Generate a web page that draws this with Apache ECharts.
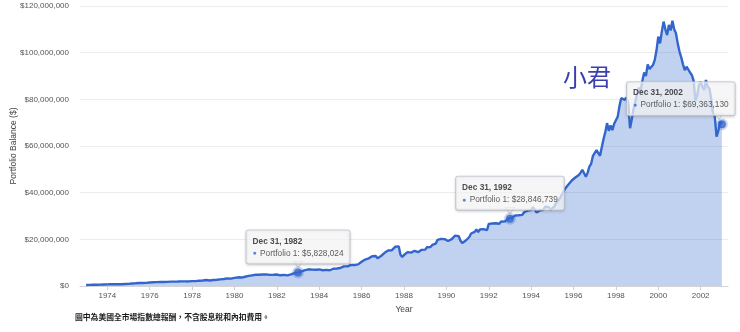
<!DOCTYPE html>
<html>
<head>
<meta charset="utf-8">
<script src="https://cdn.jsdelivr.net/npm/echarts@6/dist/echarts.min.js"></script>
<style>html,body{margin:0;padding:0;background:#fff}#c{width:740px;height:332px}</style>
</head>
<body>
<div id="c"></div>
<script>
// Month-end balances in millions of dollars (Jan..Dec)
const y1972 = [0.42]; // Dec 31, 1972 starting point
const y1973 = [0.45,0.47,0.50,0.52,0.54,0.56,0.59,0.58,0.62,0.65,0.63,0.68];
const y1974 = [0.71,0.73,0.74,0.75,0.76,0.78,0.76,0.75,0.74,0.86,0.88,0.92];
const y1975 = [1.02,1.08,1.12,1.18,1.24,1.30,1.26,1.27,1.25,1.35,1.41,1.50];
const y1976 = [1.60,1.62,1.67,1.66,1.67,1.73,1.73,1.74,1.79,1.77,1.80,1.88];
const y1977 = [1.85,1.86,1.88,1.90,1.92,1.98,1.97,1.97,1.99,1.96,2.04,2.10];
const y1978 = [2.06,2.07,2.14,2.28,2.35,2.34,2.45,2.56,2.56,2.38,2.48,2.55];
const y1979 = [2.70,2.66,2.82,2.86,2.86,3.00,3.10,3.28,3.32,3.14,3.32,3.48];
const y1980 = [3.68,3.72,3.42,3.62,3.84,3.98,4.22,4.32,4.45,4.58,4.98,4.82];
const y1981 = [4.72,4.85,5.00,4.95,5.02,5.00,4.98,4.75,4.55,4.82,5.02,4.92];
const y1982 = [4.80,4.58,4.55,4.75,4.60,4.55,4.50,4.95,5.15,5.55,5.78,5.828024];
const y1983 = [6.05,6.25,6.45,6.78,6.90,7.15,6.95,7.00,7.10,6.98,7.15,7.10];
const y1984 = [6.95,6.75,6.85,6.90,6.60,6.75,6.65,7.40,7.45,7.50,7.45,7.70];
const y1985 = [8.25,8.40,8.42,8.40,8.85,9.05,9.05,9.00,8.75,9.25,9.90,10.40];
const y1986 = [10.55,11.35,11.95,11.85,12.45,12.75,11.95,12.85,11.85,12.55,12.85,12.60];
const y1987 = [14.20,14.80,15.20,15.10,15.30,16.00,16.80,17.40,17.00,13.40,12.40,13.30];
const y1988 = [13.90,14.50,14.20,14.30,14.40,15.10,15.00,14.50,15.10,15.50,15.30,15.60];
const y1989 = [16.60,16.30,16.70,17.60,18.30,18.20,19.80,20.20,20.20,19.70,20.10,20.60];
const y1990 = [19.30,19.60,20.10,19.70,21.60,21.50,21.30,19.40,18.40,18.30,19.50,20.10];
const y1991 = [21.00,22.50,23.10,23.20,24.20,23.10,24.20,24.70,24.40,24.80,23.90,26.60];
const y1992 = [26.40,26.80,26.30,26.90,27.10,26.70,27.70,27.20,27.60,27.90,28.90,28.846739];
const y1993 = [29.20,29.50,30.20,29.50,30.30,30.50,30.50,31.60,31.60,32.30,31.90,32.50];
const y1994 = [33.70,32.80,31.50,31.90,32.40,31.60,32.70,34.00,33.30,33.80,32.60,33.20];
const y1995 = [34.00,35.30,36.30,37.20,38.70,39.80,41.50,41.80,43.40,43.20,45.20,45.80];
const y1996 = [46.50,47.20,47.60,48.60,49.80,49.80,46.80,48.60,51.20,52.40,55.80,55.00];
const y1997 = [58.20,58.40,55.80,59.50,63.00,66.00,69.80,66.50,68.80,66.80,69.50,71.00];
const y1998 = [72.50,77.00,80.50,81.20,79.80,80.80,78.00,67.60,71.50,75.80,79.00,82.50];
const y1999 = [85.00,83.50,88.00,91.50,90.00,95.00,93.00,92.50,94.70,96.90,101.00,106.90];
const y2000 = [104.00,109.00,113.30,110.00,107.50,111.90,109.50,113.70,110.00,108.30,104.00,100.50];
const y2001 = [98.00,95.00,92.50,94.00,93.30,91.50,90.40,88.00,79.50,81.50,86.00,87.50];
const y2002 = [85.40,84.00,88.30,85.40,84.50,80.00,74.00,72.50,64.00,66.50,70.50,69.36313];

const years = [1973,1974,1975,1976,1977,1978,1979,1980,1981,1982,1983,1984,1985,1986,1987,
  1988,1989,1990,1991,1992,1993,1994,1995,1996,1997,1998,1999,2000,2001,2002];
const yearValues = [y1973,y1974,y1975,y1976,y1977,y1978,y1979,y1980,y1981,y1982,y1983,y1984,
  y1985,y1986,y1987,y1988,y1989,y1990,y1991,y1992,y1993,y1994,y1995,y1996,y1997,y1998,y1999,
  y2000,y2001,y2002];

// x-axis tick labels
const xTicks = [1974,1976,1978,1980,1982,1984,1986,1988,1990,1992,1994,1996,1998,2000,2002];

// highlighted points (callouts)
const calloutDates = ['Dec 31, 1982','Dec 31, 1992','Dec 31, 2002'];
const calloutYears = [1982,1992,2002];
const calloutValues = [5828024,28846739,69363130];

// build series data: month-end m of year Y sits at Y + m/12
const lineData = [[1973, y1972[0]*1e6]];
years.forEach((yr, k) => {
  yearValues[k].forEach((v, i) => lineData.push([yr + (i+1)/12, v*1e6]));
});

const money = v => '$' + Math.round(v).toLocaleString('en-US');
const FONT = 'Liberation Sans, Arial, sans-serif';

const calloutData = calloutValues.map((v, i) => ({
  value: [calloutYears[i] + 1, v],
  label: { offset: i === 2 ? [-41, 0] : [0, 0] }
}));
const tailData = calloutValues.map((v, i) => ({
  value: [calloutYears[i] + 1, v],
  symbolOffset: i === 2 ? [-3, -8] : [0, -8]
}));

const chart = echarts.init(document.getElementById('c'), null, {renderer: 'canvas'});
chart.setOption({
  animation: false,
  textStyle: { fontFamily: FONT },
  grid: { left: 80, right: 12, top: 6, bottom: 46, containLabel: false, outerBoundsMode: 'none' },
  xAxis: {
    type: 'value', min: 1972.71, max: 2003.29,
    name: 'Year', nameLocation: 'middle', nameGap: 19, nameMoveOverlap: false,
    nameTextStyle: { fontSize: 8.5, color: '#444', fontFamily: FONT },
    splitLine: { show: false },
    axisLine: { show: true, lineStyle: { color: '#d4d4d4', width: 1 } },
    axisTick: { show: true, customValues: xTicks, length: 4, lineStyle: { color: '#d0d0d0' } },
    axisLabel: { customValues: xTicks, formatter: v => String(Math.round(v)),
      fontSize: 8, color: '#555', margin: 6, fontFamily: FONT }
  },
  yAxis: {
    type: 'value', min: 0, max: 120000000, interval: 20000000,
    name: 'Portfolio Balance ($)', nameLocation: 'middle', nameGap: 62, nameMoveOverlap: false,
    nameTextStyle: { fontSize: 8.5, color: '#444', fontFamily: FONT },
    axisLine: { show: false }, axisTick: { show: false },
    axisLabel: { formatter: money, fontSize: 8, color: '#555', margin: 11, fontFamily: FONT },
    splitLine: { lineStyle: { color: '#ececec', width: 1 } }
  },
  series: [
    {
      type: 'line', data: lineData, showSymbol: false, silent: true,
      lineStyle: { color: '#3366cc', width: 2.4 },
      itemStyle: { color: '#3366cc' },
      areaStyle: { color: '#3366cc', opacity: 0.3 },
      z: 2
    },
    {
      type: 'scatter', data: tailData, silent: true,
      symbol: 'triangle', symbolRotate: 180, symbolSize: [9, 6],
      itemStyle: { color: '#ffffff', borderColor: '#c3c8d2', borderWidth: 1 },
      z: 4
    },
    {
      type: 'scatter', data: calloutData, silent: true,
      symbol: 'circle', symbolSize: 8,
      itemStyle: { color: '#3366cc', borderColor: 'rgba(51,102,204,0.35)', borderWidth: 4 },
      z: 5,
      label: {
        show: true, position: 'top', distance: 3,
        formatter: p => '{h|' + calloutDates[p.dataIndex] + '}\n{b|●} {t|Portfolio 1: ' + money(calloutValues[p.dataIndex]) + '}',
        backgroundColor: 'rgba(255,255,255,0.88)',
        borderColor: '#c3c8d2', borderWidth: 1, borderRadius: 2,
        padding: [5, 6, 4, 6],
        shadowColor: 'rgba(0,0,0,0.18)', shadowBlur: 3, shadowOffsetY: 1,
        rich: {
          h: { fontSize: 8.3, fontWeight: 'bold', color: '#222', lineHeight: 12, width: 80, align: 'left', fontFamily: FONT },
          b: { fontSize: 7, color: '#3366cc', lineHeight: 12, fontFamily: FONT },
          t: { fontSize: 8.3, color: '#333', lineHeight: 12, fontFamily: FONT }
        }
      }
    }
  ],
  graphic: [
    { type: 'text', left: 563, top: 65, silent: true,
      style: { text: '小君', fontSize: 24, fill: '#3a3fb0', fontFamily: 'Noto Sans CJK TC', fontWeight: 'normal' } },
    { type: 'text', left: 75, top: 313, silent: true,
      style: { text: '圖中為美國全市場指數總報酬，不含股息稅和內扣費用。', fontSize: 7.8, fill: '#1a1a1a',
        fontFamily: 'Noto Sans CJK TC', fontWeight: 'bold' } }
  ]
});
</script>
</body>
</html>
